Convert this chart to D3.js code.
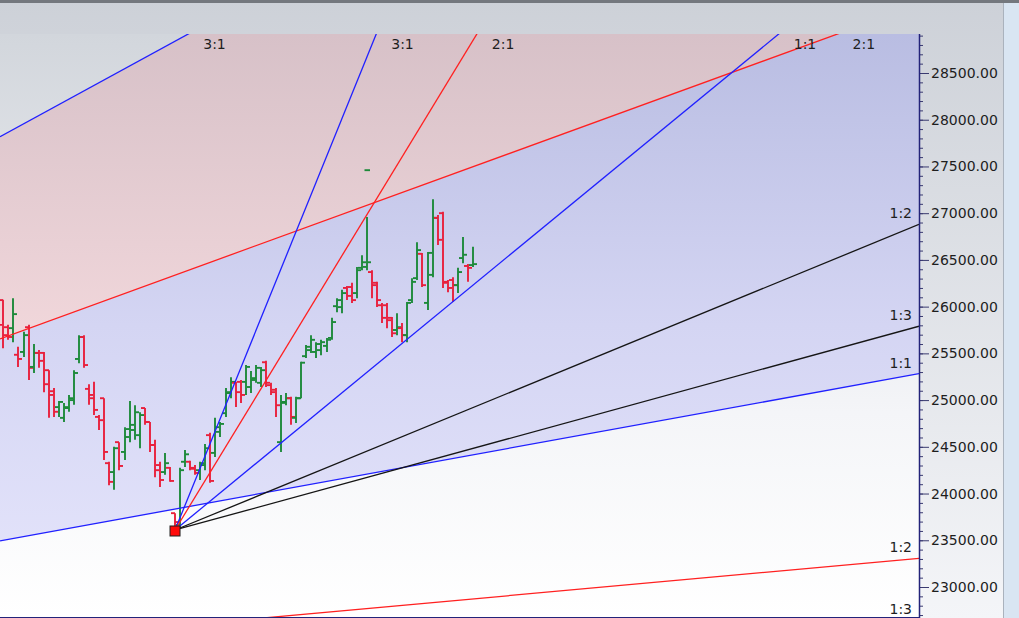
<!DOCTYPE html>
<html><head><meta charset="utf-8">
<script src="https://cdn.jsdelivr.net/npm/d3@7"></script>
<style>
html,body{margin:0;padding:0;background:#fff;overflow:hidden;}
svg{display:block;font-family:"DejaVu Sans",Verdana,sans-serif;}
</style></head>
<body>
<svg id="chart" width="1019" height="618"></svg>
<script>
// ---------------- DATA ----------------
const opens  = [26070,26070,25780,25770,25485,25515,25780,25355,25505,25505,25320,25095,24925,24810,24915,25000,25440,25675,25120,25020,24820,25020,24325,24230,24550,24445,24690,24680,24625,24915,24765,24520,24305,24230,24275,23790,
  23665,24340,24340,24265,24250,24305,24625,24435,24660,24860,25085,25185,25195,25195,25140,25235,25185,25405,25160,25110,24550,24980,25020,24810,25020,
  25470,25535,25515,25535,25580,25665,26005,25995,26200,26210,26145,26415,26425,26370,26255,26015,26015,25880,25750,25770,25695,26070,26305,26565,26040,26340,26950,27000,26265,26285,26230,26520,26435,26445];
const highs  = [26125,26075,25805,26090,25570,25730,25805,25600,25535,25515,25320,25130,24990,24970,25055,25320,25695,25695,25170,25195,24840,25020,24340,24500,24550,24710,24990,24945,24870,24915,24765,24575,24340,24435,24285,23790,
  24275,24465,24350,24305,24340,24530,24650,24810,24765,25130,25245,25195,25215,25375,25310,25375,25355,25420,25185,25130,25055,25075,25035,25035,25410,
  25590,25695,25620,25645,25665,25880,26090,26180,26220,26255,26425,26550,26960,26390,26265,26040,26040,25890,25930,25825,26050,26305,26690,26575,26585,27150,26980,27015,26285,26315,26415,26745,26455,26640];
const lows   = [25020,25555,25645,25620,25355,25460,25215,25290,25345,25085,24810,24820,24820,24765,24875,24950,25395,25345,24950,24840,24680,24360,24090,24040,24250,24360,24550,24575,24485,24735,24445,24175,24070,24200,24125,23610,
  23630,24285,24250,24200,24145,24250,24115,24390,24605,24820,25020,24925,24970,25055,25075,25185,25140,25140,25055,24820,24445,24945,24735,24755,25020,
  25450,25505,25450,25480,25515,25645,25940,25930,26070,26040,26090,26390,26390,26090,25995,25825,25770,25675,25695,25620,25620,26040,26285,26210,25965,26315,26660,26200,26155,26050,26145,26465,26265,26425];
const closes = [25805,25695,25675,25920,25440,25695,25345,25505,25420,25170,25055,24875,24980,24925,25020,25290,25675,25375,25055,24895,24785,24445,24125,24485,24295,24605,24735,24870,24840,24765,24520,24250,24145,24325,24135,23695,
  24250,24420,24275,24220,24325,24485,24135,24710,24745,25075,25195,25085,25055,25355,25215,25345,25320,25185,25085,24945,24970,25020,24820,25020,25400,
  25570,25645,25600,25620,25645,25835,26070,26145,26115,26070,26390,26475,26475,26230,26070,25880,25855,25715,25780,25695,26040,26265,26605,26230,26575,26950,26715,26255,26200,26230,26370,26555,26415,26455];
const strayTicks = [{index:73, price:27460}];

const yTickValues = d3.range(23000, 28501, 500);
const yMinorValues = d3.range(22700, 28901, 100);

const fanRatios = [3, 2, 1, 1/2, 1/3];
const fanRatioLabels = ["3:1","2:1","1:1","1:2","1:3"];
// Gann fan anchors: bar index, price, price per bar for 1:1
const fanAOrigin = {index:35, price:23610, unit:44.4};
const fanBOrigin = {index:-219.5, price:21331, unit:9.835};

// ---------------- STYLES ----------------
const BLUE="#2020ff", RED="#ff2020", BLACK="#151515";
const fanAColors=[BLUE,RED,BLUE,BLACK,BLACK];
const fanBColors=[BLUE,RED,BLUE,RED,BLUE];
const UP="#1d8a3a", DOWN="#e8203c";

// ---------------- LAYOUT ----------------
const W=1019,H=618;
const plot={left:0,right:919,top:34,bottom:617};

const svg=d3.select("#chart");
const defs=svg.append("defs");
function grad(id,stops,y1,y2){
  const g=defs.append("linearGradient").attr("id",id).attr("gradientUnits","userSpaceOnUse")
    .attr("x1",0).attr("x2",0).attr("y1",y1).attr("y2",y2);
  stops.forEach(s=>g.append("stop").attr("offset",s[0]).attr("stop-color",s[1]));
}
grad("gPanel",[[0,"#cdd1d8"],[1,"#f4f5f8"]],0,618);
grad("gPlot",[[0,"#d2d6dc"],[0.65,"#f4f5f8"],[1,"#ffffff"]],34,617);
grad("gPink",[[0,"#d7c1c8"],[0.5,"#f0d6da"],[1,"#fde5e7"]],34,617);
grad("gBlue",[[0,"#b9bde2"],[0.5,"#d4d5f3"],[1,"#e6e6fc"]],34,617);
defs.append("clipPath").attr("id","clip").append("rect")
  .attr("x",plot.left).attr("y",plot.top).attr("width",plot.right-plot.left).attr("height",plot.bottom-plot.top);

svg.append("rect").attr("width",W).attr("height",H).attr("fill","url(#gPanel)");
svg.append("rect").attr("x",0).attr("y",0).attr("width",W).attr("height",3).attr("fill","#74787e");
svg.append("rect").attr("x",1004).attr("y",3).attr("width",15).attr("height",H-3).attr("fill","#d9e5f2");
svg.append("line").attr("x1",1003.5).attr("x2",1003.5).attr("y1",3).attr("y2",H).attr("stroke","#aab2bd");
svg.append("rect").attr("x",plot.left).attr("y",plot.top).attr("width",plot.right-plot.left).attr("height",plot.bottom-plot.top).attr("fill","url(#gPlot)");

// ---------------- SCALES ----------------
const x=d3.scaleLinear().domain([0,94]).range([-1.75,473]);
const y=d3.scaleLinear().domain([23000,28500]).range([587,73]);

const fanPrice=(o,r,i)=>o.price+r*o.unit*(i-o.index);

const g=svg.append("g").attr("clip-path","url(#clip)");

// zones of fan B
const iL=x.invert(plot.left), iR=x.invert(plot.right);
function zone(rTop,rBot,fill){
  const pts=[[iL,fanPrice(fanBOrigin,rTop,iL)],[iR,fanPrice(fanBOrigin,rTop,iR)],
             [iR,fanPrice(fanBOrigin,rBot,iR)],[iL,fanPrice(fanBOrigin,rBot,iL)]];
  g.append("path").attr("d",d3.line().x(d=>x(d[0])).y(d=>y(d[1]))(pts)+"Z").attr("fill",fill);
}
zone(3,2,"url(#gPink)");
zone(2,1,"url(#gBlue)");

// bars
const idx=d3.range(opens.length);
const bars=g.append("g").attr("stroke-width",1.9);
idx.forEach(i=>{
  const c=closes[i]>=opens[i]?UP:DOWN, cx=Math.round(x(i));
  bars.append("line").attr("x1",cx).attr("x2",cx).attr("y1",y(highs[i])).attr("y2",y(lows[i])).attr("stroke",c);
  bars.append("line").attr("x1",cx-4).attr("x2",cx).attr("y1",y(opens[i])).attr("y2",y(opens[i])).attr("stroke",c);
  bars.append("line").attr("x1",cx).attr("x2",cx+4).attr("y1",y(closes[i])).attr("y2",y(closes[i])).attr("stroke",c);
});
strayTicks.forEach(t=>{
  const cx=Math.round(x(t.index));
  bars.append("line").attr("x1",cx-2.5).attr("x2",cx+3).attr("y1",y(t.price)).attr("y2",y(t.price)).attr("stroke",UP);
});

// fan lines and labels
const labels=[];
function drawFan(o,colors,startIdx){
  fanRatios.forEach((r,k)=>{
    const i0=startIdx, i1=iR;
    g.append("line").attr("x1",x(i0)).attr("y1",y(fanPrice(o,r,i0)))
      .attr("x2",x(i1)).attr("y2",y(fanPrice(o,r,i1)))
      .attr("stroke",colors[k]).attr("stroke-width",1.3);
    const yEnd=y(fanPrice(o,r,iR));
    if(yEnd<plot.top){
      const iTop=o.index+(y.invert(plot.top)-o.price)/(r*o.unit);
      labels.push({t:fanRatioLabels[k],x:x(iTop)+15,y:plot.top+10,a:"start"});
    } else {
      labels.push({t:fanRatioLabels[k],x:plot.right-7,y:yEnd-11,a:"end"});
    }
  });
}
drawFan(fanBOrigin,fanBColors,iL);
drawFan(fanAOrigin,fanAColors,fanAOrigin.index);

// pivot marker
const px=x(fanAOrigin.index), py=y(fanAOrigin.price);
svg.append("rect").attr("x",px-5).attr("y",py-4).attr("width",10).attr("height",10)
  .attr("fill","#ff0a0a").attr("stroke","#202020").attr("stroke-width",1);

svg.append("g").selectAll("text").data(labels).join("text")
  .attr("x",d=>d.x).attr("y",d=>d.y).attr("text-anchor",d=>d.a)
  .attr("dominant-baseline","central").attr("font-size",14).attr("fill","#1e1e1e").text(d=>d.t);

// ---------------- AXIS ----------------
const axG=svg.append("g").attr("transform",`translate(${plot.right},0)`);
axG.append("g").call(d3.axisRight(y).tickValues(yMinorValues.filter(v=>y(v)>=plot.top&&y(v)<=plot.bottom)).tickSize(4).tickFormat(""))
  .call(s=>s.select(".domain").remove()).selectAll("line").attr("stroke","#3a3a70");
const major=axG.append("g").call(d3.axisRight(y).tickValues(yTickValues).tickSize(10).tickPadding(2).tickFormat(d=>d.toFixed(2)));
major.select(".domain").remove();
major.selectAll("line").attr("stroke","#3a3a70");
major.selectAll("text").attr("font-size",14).attr("font-family","DejaVu Sans, sans-serif").attr("fill","#1e1e1e");
svg.append("line").attr("x1",plot.right+0.5).attr("x2",plot.right+0.5).attr("y1",plot.top).attr("y2",H)
  .attr("stroke","#23237a").attr("stroke-width",1.5);
svg.append("line").attr("x1",0).attr("x2",plot.right).attr("y1",plot.bottom+0.5).attr("y2",plot.bottom+0.5)
  .attr("stroke","#23237a").attr("stroke-width",1.2);
</script>
</body></html>
